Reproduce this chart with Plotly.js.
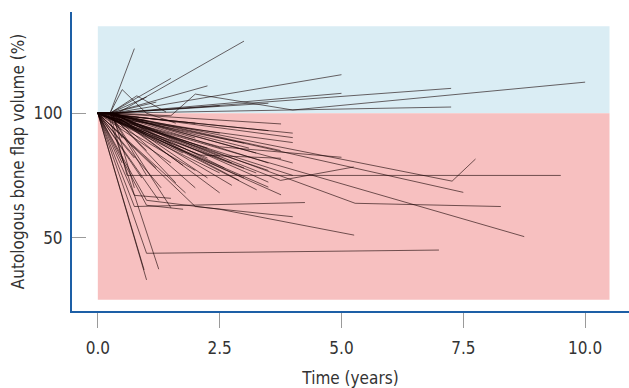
<!DOCTYPE html>
<html>
<head>
<meta charset="utf-8">
<script src="https://cdn.plot.ly/plotly-3.0.1.min.js"></script>
<style>html,body{margin:0;padding:0;background:#fff;}#chart{width:629px;height:388px;}</style>
</head>
<body>
<div id="chart"></div>
<script>
// Follow-up times (years) per patient
const patientTimes = [
  [0,0.25,0.75],[0,0.4,3.0],[0,0.25,1.5],[0,0.25,2.25],[0,0.3,5.0],[0,0.3,7.25],
  [0,0.25,1.5,2.0,4.0,10.0],[0,0.3,5.0],[0,0.3,7.25],[0,0.25,0.5,1.0,1.6],[0,0.25,0.8,1.4],
  [0,0.25,1.0],[0,0.25,3.5],[0,0.3,2.5],[0,0.25,1.2],
  [0,0.25,0.6,9.5],[0,0.25,7.27,7.75],[0,0.25,7.5],[0,8.75],[0,0.25,5.28,8.27],
  [0,1.0,2.5,5.26],[0,1.0,7.0],[0,1.0],[0,0.95],[0,0.2,1.25],[0,0.75,4.25],[0,2.0,4.0],
  [0,1.0,1.75],[0,0.75,1.5],[0,0.25,3.76],[0,0.25,4.0],[0,0.3,4.0],[0,2.5,5.0],
  [0,0.25,3.75,5.25],[0,0.3,3.5],[0,3.76],[0,0.2,3.26],[0,2.1,3.76],[0,3.5],
  [0,0.25,1.0],[0,1.2],[0,0.3,1.5],[0,1.5],[0,0.25,1.6],[0,1.75],[0,0.3,2.0],[0,2.0],[0,0.25,2.0],
  [0,2.25],[0,0.3,2.25],[0,2.5],[0,0.25,2.5],[0,2.5],[0,0.3,2.5],[0,2.75],[0,0.25,2.75],
  [0,3.0],[0,0.25,3.0],[0,3.0],[0,0.3,3.25],[0,3.25],[0,3.5],[0,0.25,3.5],[0,3.5],[0,0.3,3.75],
  [0,4.0],[0,0.25,4.0],[0,4.0],[0,0.25,0.5],[0,0.75],[0,0.3,0.75],[0,1.0],[0,0.25,1.0],[0,1.25],
  [0,0.5],[0,0.25,1.5],[0,2.0],[0,0.3,0.5],[0,1.0],[0,0.25,1.75],[0,2.25],[0,0.3,2.9],[0,1.3],
  [0,0.9],[0,0.25,3.1],[0,1.8],[0,0.3,2.6]
];
// Autologous bone flap volume (%) per patient
const patientVolumes = [
  [100,100,126],[100,100,129],[100,100,114],[100,100,111],[100,100,115.5],[100,100,110],
  [100,100,99,107.7,101.3,112.5],[100,100,108],[100,100,102.5],[100,100,109.5,100,96],[100,100,107,100.5],
  [100,100,106.5],[100,100,104],[100,100,103],[100,100,104.5],
  [100,100,75,75],[100,100,72.7,81.6],[100,100,68.2],[100,50.4],[100,100,63.8,62.5],
  [100,65,61.4,51],[100,43.7,45],[100,33],[100,37],[100,100,37.3],[100,62.5,64.1],[100,62.5,58.4],
  [100,63,61.4],[100,67,65.8],[100,100,95.7],[100,100,90.2],[100,98,88.2],[100,86.5,82.3],
  [100,100,73,78.4],[100,100,72.3],[100,67.2],[100,100,69.2],[100,83.2,81.9],[100,70.3],
  [100,100,85],[100,78],[100,100,88],[100,80],[100,100,72],[100,84],[100,100,90],[100,77],[100,100,70],
  [100,86],[100,100,74],[100,92],[100,100,83],[100,76],[100,100,68],[100,80],[100,100,71],
  [100,88],[100,100,78],[100,74],[100,100,84],[100,76],[100,93],[100,100,80],[100,77],[100,100,85],
  [100,92],[100,100,80],[100,75],[100,100,90],[100,82],[100,100,70],[100,92],[100,100,75],[100,65],
  [100,80],[100,100,62],[100,96],[100,100,96],[100,97],[100,100,79],[100,82],[100,100,73],[100,70],
  [100,74],[100,100,86],[100,68],[100,100,78]
];
const xTickVals = [0, 2.5, 5, 7.5, 10];
const xTickText = ['0.0', '2.5', '5.0', '7.5', '10.0'];
const yTickVals = [50, 100];
const yTickText = ['50', '100'];

const traces = patientTimes.map((t, i) => ({
  type: 'scatter', mode: 'lines', x: t, y: patientVolumes[i],
  line: {color: 'rgba(20,0,0,0.6)', width: 1}, hoverinfo: 'skip', showlegend: false
}));

const fontFam = '"DejaVu Sans Condensed", "Liberation Sans Narrow", "Roboto Condensed", sans-serif';
const layout = {
  width: 629, height: 388,
  margin: {l: 72, r: 0, t: 12, b: 77},
  paper_bgcolor: '#ffffff', plot_bgcolor: '#ffffff',
  font: {family: fontFam, size: 17, color: '#333333'},
  showlegend: false,
  xaxis: {
    range: [-0.53, 10.9], tickvals: xTickVals, ticktext: xTickText,
    ticks: 'outside', ticklen: 15, tickwidth: 1, tickcolor: '#9a9a9a',
    showline: true, linecolor: '#1d5fa6', linewidth: 2,
    showgrid: false, zeroline: false, ticklabelstandoff: 6,
    title: {text: 'Time (years)', font: {family: fontFam, size: 17, color: '#333333'}, standoff: 15},
    tickfont: {family: fontFam, size: 17, color: '#333333'}
  },
  yaxis: {
    range: [20.5, 140.7], tickvals: yTickVals, ticktext: yTickText,
    ticks: 'inside', ticklen: 14, tickwidth: 1, tickcolor: '#9a9a9a',
    showline: true, linecolor: '#1d5fa6', linewidth: 2,
    showgrid: false, zeroline: false, ticklabelstandoff: 4,
    title: {text: 'Autologous bone flap volume (%)', font: {family: fontFam, size: 17, color: '#333333'}, standoff: 4},
    tickfont: {family: fontFam, size: 17, color: '#333333'}
  },
  shapes: [
    {type: 'rect', xref: 'x', yref: 'y', x0: 0, x1: 10.5, y0: 100, y1: 135, fillcolor: '#daedf4', line: {width: 0}, layer: 'below'},
    {type: 'rect', xref: 'x', yref: 'y', x0: 0, x1: 10.5, y0: 25, y1: 100, fillcolor: '#f7c0c0', line: {width: 0}, layer: 'below'}
  ]
};
Plotly.newPlot('chart', traces, layout, {displayModeBar: false, staticPlot: true});
</script>
</body>
</html>
